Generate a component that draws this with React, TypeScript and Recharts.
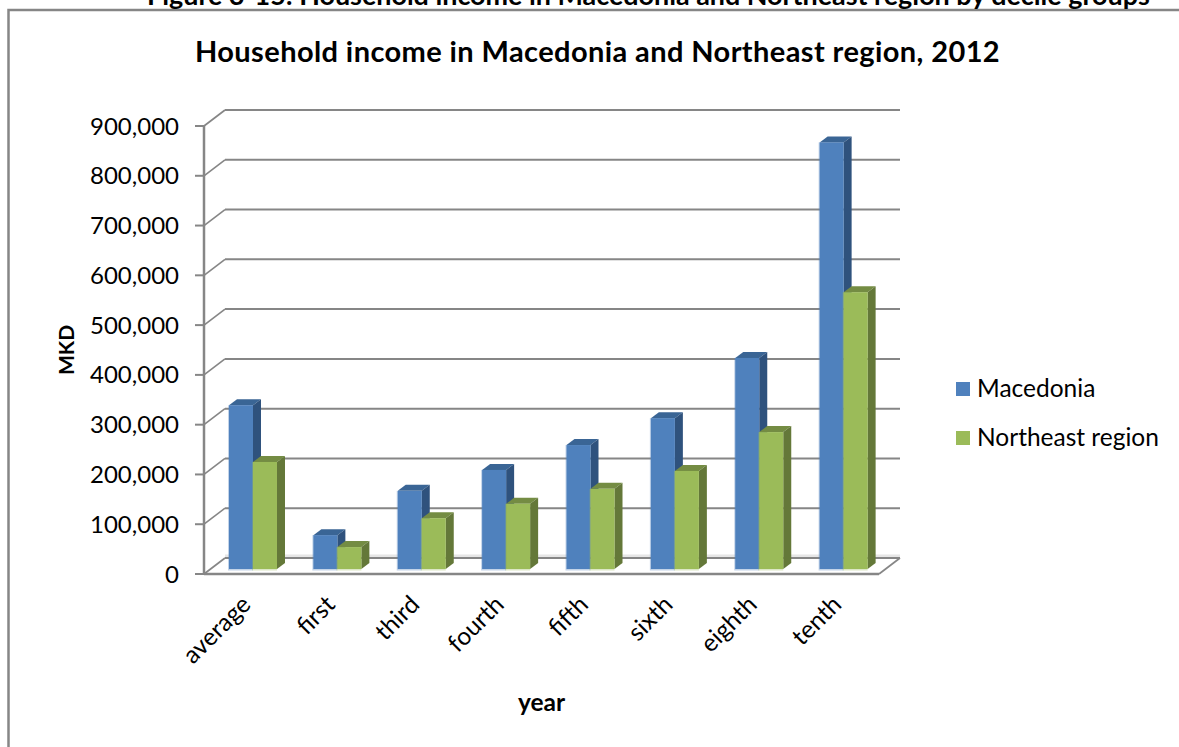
import React from "react";
import { BarChart, Bar, XAxis, YAxis, CartesianGrid } from "recharts";

const categories = ["average", "first", "third", "fourth", "fifth", "sixth", "eighth", "tenth"];
const macedonia = [329000, 68000, 157000, 199000, 249000, 303000, 424000, 857000];
const northeast = [215000, 44000, 102000, 131000, 161000, 197000, 275000, 556000];
const yTicks = [0, 100000, 200000, 300000, 400000, 500000, 600000, 700000, 800000, 900000];

const data = categories.map((name, i) => ({
  name,
  Macedonia: macedonia[i],
  "Northeast region": northeast[i],
}));

const FONT = "Lato, 'Noto Sans', sans-serif";
const AXIS_GREY = "#868686";
// offset of the back wall from the front of the floor
const WALL_DX = 21;
const WALL_DY = -16;

const gridLine = (props: any) => {
  const { x1, x2, y1, key } = props;
  const isFloor = y1 > 570;
  return (
    <g key={key}>
      {isFloor && <line x1={x1 + WALL_DX} x2={x2 + WALL_DX} y1={y1 + WALL_DY - 2} y2={y1 + WALL_DY - 2} stroke="#e6e6e6" strokeWidth={3} />}
      <line x1={x1} y1={y1} x2={x1 + WALL_DX} y2={y1 + WALL_DY} stroke={AXIS_GREY} strokeWidth={1.6} />
      <line x1={x1 + WALL_DX} y1={y1 + WALL_DY} x2={x2 + WALL_DX} y2={y1 + WALL_DY} stroke={AXIS_GREY} strokeWidth={2} />
      {isFloor && <line x1={x2} y1={y1} x2={x2 + WALL_DX} y2={y1 + WALL_DY} stroke={AXIS_GREY} strokeWidth={1.6} />}
    </g>
  );
};

// 3D look of the Excel column: front face moved into the floor, then top and side faces
const Bar3D = (props: any) => {
  const { x, y, width, height, fill, topFill, sideFill } = props;
  const fx = x + 7;
  const fy = y - 5;
  const dx = 8;
  const dy = 6;
  const r = fx + width;
  const b = fy + height;
  return (
    <g>
      <rect x={fx - 1} y={fy} width={width + 1} height={height + 1.5} fill={fill} opacity={0.35} />
      <polygon points={`${fx},${fy} ${fx + dx},${fy - dy} ${r + dx},${fy - dy} ${r},${fy}`} fill={topFill} />
      <polygon points={`${r},${fy} ${r + dx},${fy - dy} ${r + dx},${b - dy} ${r},${b}`} fill={sideFill} />
      <rect x={fx} y={fy} width={width} height={height} fill={fill} />
    </g>
  );
};

const CategoryTick = (props: any) => {
  const { x, y, payload } = props;
  const tx = x + 6;
  const ty = y + 24;
  return (
    <text x={tx} y={ty} transform={`rotate(-45 ${tx} ${ty})`} textAnchor="end" fontFamily={FONT} fontSize={24.5} fill="#000">
      {payload.value}
    </text>
  );
};

const LegendBox = ({ color, label, top }: { color: string; label: string; top: number }) => (
  <g>
    <rect x={956} y={top} width={14} height={14} fill={color} />
    <text x={977} y={top + 15} fontFamily={FONT} fontSize={24.5} fill="#000">
      {label}
    </text>
  </g>
);

const App = () => (
  <div style={{ position: "absolute", left: 0, top: 0, width: 1179, height: 747, background: "#fff" }}>
    <BarChart
      width={1179}
      height={747}
      data={data}
      margin={{ top: 126, right: 300, bottom: 0, left: 0 }}
      barCategoryGap={18}
      barGap={0}
    >
      <rect x={8.5} y={10} width={1200} height={800} fill="none" stroke={AXIS_GREY} strokeWidth={2.5} />
      <text x={147} y={5} fontFamily={FONT} fontWeight={700} fontSize={26.9} fill="#000">
        Figure 3-15: Household income in Macedonia and Northeast region by decile groups
      </text>
      <text x={195} y={62} fontFamily={FONT} fontWeight={700} fontSize={29} letterSpacing={0.4} fill="#000">
        Household income in Macedonia and Northeast region, 2012
      </text>
      <CartesianGrid horizontal={gridLine} vertical={false} />
      <XAxis
        dataKey="name"
        height={173}
        interval={0}
        tickLine={false}
        axisLine={{ stroke: AXIS_GREY, strokeWidth: 2.5 }}
        tick={<CategoryTick />}
        label={{ value: "year", position: "insideBottom", offset: 36, fontFamily: FONT, fontWeight: 700, fontSize: 24.5, fill: "#000" }}
      />
      <YAxis
        width={204}
        domain={[0, 900000]}
        ticks={yTicks}
        interval={0}
        tickSize={9}
        tickMargin={16}
        tickLine={{ stroke: AXIS_GREY, strokeWidth: 2 }}
        axisLine={{ stroke: AXIS_GREY, strokeWidth: 2.5 }}
        tickFormatter={(v: number) => v.toLocaleString("en-US")}
        tick={{ fontFamily: FONT, fontSize: 24, fill: "#000" }}
        label={{ value: "MKD", angle: -90, position: "insideLeft", offset: 67, textAnchor: "middle", fontFamily: FONT, fontWeight: 700, fontSize: 21, fill: "#000" }}
      />
      <Bar
        dataKey="Macedonia"
        fill="#4F81BD"
        isAnimationActive={false}
        shape={(p: any) => <Bar3D {...p} topFill="#3A6595" sideFill="#2F527D" />}
      />
      <Bar
        dataKey="Northeast region"
        fill="#9BBB59"
        isAnimationActive={false}
        shape={(p: any) => <Bar3D {...p} topFill="#748C43" sideFill="#647839" />}
      />
      <LegendBox color="#4F81BD" label="Macedonia" top={382} />
      <LegendBox color="#9BBB59" label="Northeast region" top={431} />
    </BarChart>
  </div>
);

export default App;
